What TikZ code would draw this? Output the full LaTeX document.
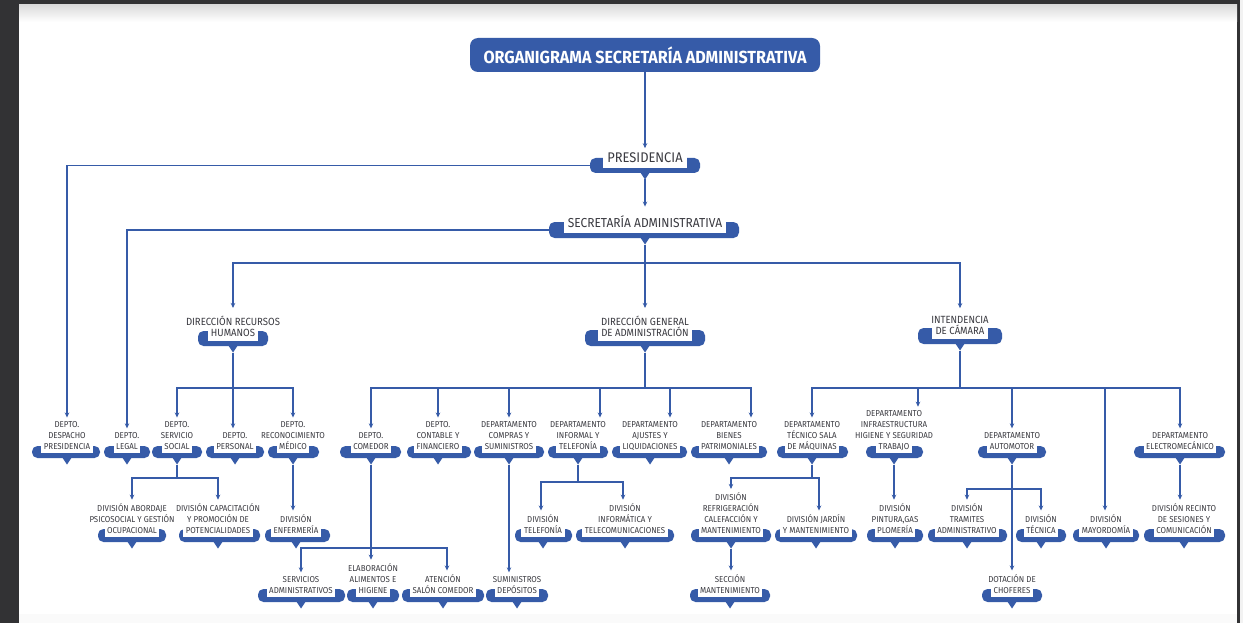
\documentclass[tikz,border=0pt]{standalone}
\usepackage{fontspec}
\setmainfont{Fira Sans}[FakeStretch=0.92]
\usetikzlibrary{arrows.meta,calc}
\definecolor{orgblue}{RGB}{54,91,168}
\definecolor{orgtext}{RGB}{58,58,64}
\definecolor{pagedark}{RGB}{50,50,52}

% white band behind the last text line, cutting into the blue bar
\newcommand\lastrow[1]{{\setlength\fboxsep{0pt}\colorbox{white}{\rule[-0.4em]{0pt}{0.95em}\hspace{0.3em}#1\hspace{0.3em}}}}

% unit: name, text x, bar bottom y, bar left, bar right, bar height, style, upper lines, last line
\newcommand\orgunit[9]{%
  \fill[orgblue, rounded corners=5.5pt] (#4,#3-#6) rectangle (#5,#3);
  \fill[orgblue] (#2-5,#3-1) -- (#2+5,#3-1) -- (#2,#3+6.5) -- cycle;
  \node[#7, anchor=south] (#1) at (#2,#3-5) {#8\lastrow{#9}};
  \coordinate (#1-n) at (#2,#3+6.5);
  \coordinate (#1-l) at (#4,#3-#6/2);
}

\tikzset{
  lbl/.style={text=orgtext, align=center, inner sep=0pt},
  lvp/.style={lbl, font=\fontsize{14}{15}\selectfont},
  lvs/.style={lbl, font=\fontsize{13}{15}\selectfont},
  lv1/.style={lbl, font=\fontsize{10.4}{11}\selectfont},
  lv2/.style={lbl, font=\fontsize{8.6}{10.8}\selectfont},
  ln/.style={draw=orgblue, line width=1.2pt},
  arr/.style={ln, -{Stealth[length=5pt,width=4.5pt]}, shorten >=4pt},
  titlebox/.style={fill=orgblue, rounded corners=8pt, text=white,
    font=\bfseries\fontsize{17.5}{19}\selectfont, minimum width=350pt,
    minimum height=34pt, inner sep=0pt}
}

\begin{document}
\begin{tikzpicture}[x=1pt,y=-1pt]
\useasboundingbox (0,0) rectangle (1243,623);

% page and viewer frame
\fill[pagedark] (0,0) rectangle (1243,623);
\fill[white] (19,5) rectangle (1237,623);
\shade[top color=black!14, bottom color=white] (19,5) rectangle (1237,22);
\fill[black!5] (1240,0) rectangle (1243,623);
\fill[black!2] (19,614) rectangle (1237,623);

% title
\node[titlebox] (title) at (645,55) {ORGANIGRAMA SECRETARÍA ADMINISTRATIVA};

% upper levels
\orgunit{pres}{645}{173}{590}{700}{15}{lvp}{}{PRESIDENCIA}
\orgunit{sec}{645}{238}{549}{739}{16}{lvs}{}{SECRETARÍA ADMINISTRATIVA}

\orgunit{rrhh}{233}{346}{198}{268}{15}{lv1}{DIRECCIÓN RECURSOS\\}{HUMANOS}
\orgunit{dga}{645}{346}{585}{705}{16}{lv1}{DIRECCIÓN GENERAL\\}{DE ADMINISTRACIÓN}
\orgunit{inten}{960}{344}{918}{1002}{16}{lv1}{INTENDENCIA\\}{DE CÁMARA}

% departments
\orgunit{desp}{67}{458}{32}{100}{12}{lv2}{DEPTO.\\DESPACHO\\}{PRESIDENCIA}
\orgunit{legal}{127}{458}{104}{150}{12}{lv2}{DEPTO.\\}{LEGAL}
\orgunit{servsoc}{177}{458}{152}{202}{12}{lv2}{DEPTO.\\SERVICIO\\}{SOCIAL}
\orgunit{pers}{235}{458}{206}{264}{12}{lv2}{DEPTO.\\}{PERSONAL}
\orgunit{recmed}{293}{458}{268}{319}{12}{lv2}{DEPTO.\\RECONOCIMIENTO\\}{MÉDICO}
\orgunit{comedor}{371}{458}{340}{401}{12}{lv2}{DEPTO.\\}{COMEDOR}
\orgunit{contable}{438}{458}{407}{471}{12}{lv2}{DEPTO.\\CONTABLE Y\\}{FINANCIERO}
\orgunit{compras}{509}{458}{474}{544}{12}{lv2}{DEPARTAMENTO\\COMPRAS Y\\}{SUMINISTROS}
\orgunit{informal}{578}{458}{548}{608}{12}{lv2}{DEPARTAMENTO\\INFORMAL Y\\}{TELEFONÍA}
\orgunit{ajustes}{650}{458}{612}{687}{12}{lv2}{DEPARTAMENTO\\AJUSTES Y\\}{LIQUIDACIONES}
\orgunit{bienes}{729}{458}{691}{767}{12}{lv2}{DEPARTAMENTO\\BIENES\\}{PATRIMONIALES}
\orgunit{tecnico}{812}{458}{777}{848}{12}{lv2}{DEPARTAMENTO\\TÉCNICO SALA\\}{DE MÁQUINAS}
\orgunit{infra}{894}{458}{866}{923}{12}{lv2}{DEPARTAMENTO\\INFRAESTRUCTURA\\HIGIENE Y SEGURIDAD\\}{TRABAJO}
\orgunit{auto}{1012}{458}{978}{1046}{12}{lv2}{DEPARTAMENTO\\}{AUTOMOTOR}
\orgunit{electro}{1180}{458}{1134}{1225}{12}{lv2}{DEPARTAMENTO\\}{ELECTROMECÁNICO}

% divisions
\orgunit{abordaje}{132}{542}{98}{166}{13}{lv2}{DIVISIÓN ABORDAJE\\PSICOSOCIAL Y GESTIÓN\\}{OCUPACIONAL}
\orgunit{capac}{218}{542}{179}{260}{13}{lv2}{DIVISIÓN CAPACITACIÓN\\Y PROMOCIÓN DE\\}{POTENCIALIDADES}
\orgunit{enferm}{296}{542}{265}{330}{13}{lv2}{DIVISIÓN\\}{ENFERMERÍA}
\orgunit{telef}{543}{542}{515}{572}{13}{lv2}{DIVISIÓN\\}{TELEFONÍA}
\orgunit{informat}{625}{542}{576}{674}{13}{lv2}{DIVISIÓN\\INFORMÁTICA Y\\}{TELECOMUNICACIONES}
\orgunit{refrig}{731}{542}{691}{771}{13}{lv2}{DIVISIÓN\\REFRIGERACIÓN\\CALEFACCIÓN Y\\}{MANTENIMIENTO}
\orgunit{jardin}{816}{542}{775}{857}{13}{lv2}{DIVISIÓN JARDÍN\\}{Y MANTENIMIENTO}
\orgunit{pintura}{895}{542}{867}{923}{13}{lv2}{DIVISIÓN\\PINTURA,GAS\\}{PLOMERÍA}
\orgunit{tramites}{967}{542}{928}{1007}{13}{lv2}{DIVISIÓN\\TRAMITES\\}{ADMINISTRATIVO}
\orgunit{tecnica}{1041}{542}{1016}{1066}{13}{lv2}{DIVISIÓN\\}{TÉCNICA}
\orgunit{mayor}{1106}{542}{1073}{1139}{13}{lv2}{DIVISIÓN\\}{MAYORDOMÍA}
\orgunit{recinto}{1184}{542}{1144}{1225}{13}{lv2}{DIVISIÓN RECINTO\\DE SESIONES Y\\}{COMUNICACIÓN}

% sections
\orgunit{servadm}{301}{602}{258}{345}{13}{lv2}{SERVICIOS\\}{ADMINISTRATIVOS}
\orgunit{elab}{373}{602}{347}{399}{13}{lv2}{ELABORACIÓN\\ALIMENTOS E\\}{HIGIENE}
\orgunit{atenc}{443}{602}{402}{484}{13}{lv2}{ATENCIÓN\\}{SALÓN COMEDOR}
\orgunit{sumin}{517}{602}{486}{548}{13}{lv2}{SUMINISTROS\\}{DEPÓSITOS}
\orgunit{seccion}{730}{602}{690}{770}{13}{lv2}{SECCIÓN\\}{MANTENIMIENTO}
\orgunit{dotac}{1012}{602}{982}{1042}{13}{lv2}{DOTACIÓN DE\\}{CHOFERES}

% bus junctions
\coordinate (busA) at (645,263);
\coordinate (busB) at (233,388);
\coordinate (busC) at (645,388);
\coordinate (busD) at (960,388);
\coordinate (busE) at (177,478);
\coordinate (busF) at (371,548);
\coordinate (busG) at (578,482);
\coordinate (busH) at (812,478);
\coordinate (busI) at (1012,489);

% top chain
\draw[arr] (title.south) -- (pres.north);
\draw[arr, shorten >=9pt] (pres-n) -- (sec.north);
\draw[arr] (pres-l) -| (desp.north);
\draw[arr] (sec-l) -| (legal.north);
\draw[ln] (sec-n) -- (busA);
\draw[arr, shorten >=8pt] (busA) -| (rrhh.north);
\draw[arr, shorten >=8pt] (busA) -- (dga.north);
\draw[arr, shorten >=8pt] (busA) -| (inten.north);

% human resources
\draw[ln] (rrhh-n) -- (busB);
\draw[arr] (busB) -- (busB |- pers.north);
\draw[arr] (busB) -| (servsoc.north);
\draw[arr] (busB) -| (recmed.north);
\draw[ln] (servsoc-n) -- (busE);
\draw[arr] (busE) -| (abordaje.north);
\draw[arr] (busE) -| (capac.north);
\draw[arr] (recmed-n) -- (recmed-n |- enferm.north);

% general administration
\draw[ln] (dga-n) -- (busC);
\draw[arr] (busC) -| (comedor.north);
\draw[arr] (busC) -| (contable.north);
\draw[arr] (busC) -| (compras.north);
\draw[arr] (busC) -| ([xshift=22pt]informal.north);
\draw[arr] (busC) -| ([xshift=20pt]ajustes.north);
\draw[arr] (busC) -| ([xshift=22pt]bienes.north);
\draw[arr] (comedor-n) -- (comedor-n |- elab.north);
\draw[arr] (busF) -| (servadm.north);
\draw[arr] (busF) -| ([xshift=4pt]atenc.north);
\draw[arr] (compras-n) -- (compras-n |- sumin.north);
\draw[ln] (informal-n) -- (busG);
\draw[arr] (busG) -| ([xshift=-2pt]telef.north);
\draw[arr] (busG) -| ([xshift=-2pt]informat.north);

% intendance
\draw[ln] (inten-n) -- (busD);
\draw[arr] (busD) -| (tecnico.north);
\draw[arr] (busD) -| ([xshift=24pt]infra.north);
\draw[arr] (busD) -| (auto.north);
\draw[arr] (busD) -| ([xshift=-1pt]mayor.north);
\draw[arr] (busD) -| (electro.north);
\draw[ln] (tecnico-n) -- (busH);
\draw[arr] (busH) -| (refrig.north);
\draw[arr] (busH) -| ([xshift=3pt]jardin.north);
\draw[arr] (refrig-n) -- (refrig-n |- seccion.north);
\draw[arr] (infra-n) -- (infra-n |- pintura.north);
\draw[arr] (auto-n) -- (dotac.north);
\draw[arr] (busI) -| (tramites.north);
\draw[arr] (busI) -| (tecnica.north);
\draw[arr] (electro-n) -- (electro-n |- recinto.north);
\end{tikzpicture}
\end{document}
